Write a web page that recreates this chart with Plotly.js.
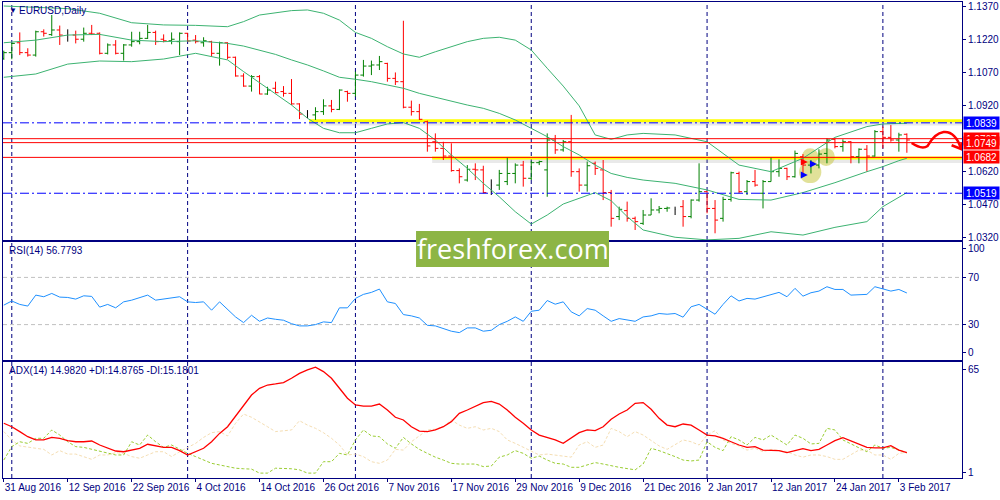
<!DOCTYPE html>
<html>
<head>
<meta charset="utf-8">
<script src="https://cdn.plot.ly/plotly-3.0.1.min.js"></script>
<style>
  html, body { margin: 0; padding: 0; background: #fff; }
  #chart { width: 1000px; height: 500px; }
</style>
</head>
<body>
<div id="chart"></div>
<script>
// EURUSD daily bars, 31 Aug 2016 .. 6 Feb 2017, x = bar number
var openP = [
  1.1132,1.1158,1.1203,1.1158,1.1147,1.1253,1.1240,1.1261,1.1238,1.1238,
  1.1219,1.1246,1.1246,1.1155,1.1193,1.1155,1.1193,1.1208,1.1223,1.1250,
  1.1219,1.1212,1.1208,1.1246,1.1215,1.1203,1.1208,1.1155,1.1203,1.1137,
  1.1052,1.1006,1.1049,1.0970,1.0996,1.0981,1.0973,1.0925,1.0879,1.0875,
  1.0890,1.0916,1.0900,1.0981,1.0973,1.1056,1.1097,1.1102,1.1109,1.1041,
  1.1026,1.0910,1.0890,1.0844,1.0753,1.0723,1.0688,1.0622,1.0579,1.0628,
  1.0625,1.0556,1.0556,1.0572,1.0609,1.0647,1.0587,1.0658,1.0625,1.0761,
  1.0716,1.0753,1.0617,1.0556,1.0655,1.0625,1.0522,1.0413,1.0440,1.0405,
  1.0382,1.0420,1.0443,1.0450,1.0446,1.0458,1.0413,1.0488,1.0526,1.0450,
  1.0405,1.0491,1.0609,1.0526,1.0572,1.0519,1.0572,1.0617,1.0632,1.0594,
  1.0685,1.0647,1.0647,1.0700,1.0764,1.0731,1.0753,1.0685,1.0719,1.0688,
  1.0799,1.0773,1.0761,1.0787
];
var highP = [
  1.1167,1.1203,1.1250,1.1178,1.1258,1.1264,1.1329,1.1281,1.1264,1.1258,
  1.1272,1.1284,1.1250,1.1200,1.1215,1.1197,1.1253,1.1253,1.1284,1.1258,
  1.1241,1.1250,1.1250,1.1248,1.1238,1.1228,1.1212,1.1208,1.1205,1.1140,
  1.1064,1.1056,1.1056,1.1003,1.1026,1.1006,1.1038,1.0928,1.0897,1.0910,
  1.0946,1.0943,1.0991,1.0985,1.1072,1.1125,1.1122,1.1143,1.1112,1.1068,
  1.1303,1.0940,1.0925,1.0849,1.0791,1.0753,1.0746,1.0632,1.0647,1.0655,
  1.0644,1.0582,1.0625,1.0682,1.0655,1.0666,1.0666,1.0667,1.0791,1.0784,
  1.0761,1.0875,1.0632,1.0663,1.0663,1.0670,1.0534,1.0458,1.0481,1.0413,
  1.0443,1.0496,1.0461,1.0458,1.0458,1.0488,1.0491,1.0655,1.0530,1.0488,
  1.0503,1.0617,1.0617,1.0579,1.0625,1.0579,1.0682,1.0673,1.0635,1.0713,
  1.0697,1.0670,1.0719,1.0769,1.0769,1.0764,1.0756,1.0723,1.0738,1.0806,
  1.0822,1.0829,1.0794,1.0791
];
var lowP = [
  1.1125,1.1128,1.1147,1.1140,1.1140,1.1231,1.1234,1.1193,1.1208,1.1200,
  1.1208,1.1238,1.1150,1.1150,1.1150,1.1122,1.1185,1.1196,1.1220,1.1193,
  1.1205,1.1196,1.1147,1.1208,1.1200,1.1185,1.1140,1.1099,1.1128,1.1049,
  1.1003,1.0981,1.0969,1.0966,1.0973,1.0958,1.0920,1.0856,1.0860,1.0852,
  1.0875,1.0887,1.0897,1.0935,1.0958,1.1049,1.1056,1.1079,1.1026,1.1011,
  1.0905,1.0872,1.0852,1.0708,1.0708,1.0670,1.0617,1.0564,1.0572,1.0579,
  1.0519,1.0511,1.0534,1.0556,1.0564,1.0549,1.0579,1.0647,1.0503,1.0698,
  1.0708,1.0594,1.0526,1.0526,1.0602,1.0488,1.0367,1.0397,1.0390,1.0352,
  1.0375,1.0420,1.0428,1.0435,1.0420,1.0367,1.0405,1.0481,1.0428,1.0337,
  1.0390,1.0481,1.0519,1.0511,1.0549,1.0450,1.0572,1.0594,1.0579,1.0590,
  1.0602,1.0609,1.0632,1.0655,1.0723,1.0708,1.0655,1.0655,1.0617,1.0685,
  1.0723,1.0753,1.0708,1.0703
];
var closeP = [
  1.1158,1.1200,1.1158,1.1147,1.1253,1.1246,1.1261,1.1238,1.1238,1.1219,
  1.1246,1.1243,1.1155,1.1193,1.1155,1.1193,1.1208,1.1223,1.1250,1.1208,
  1.1212,1.1219,1.1246,1.1211,1.1208,1.1212,1.1155,1.1203,1.1137,1.1052,
  1.1006,1.1049,1.0970,1.0988,1.0976,1.0973,1.0925,1.0879,1.0879,1.0890,
  1.0916,1.0900,1.0988,1.0973,1.1056,1.1097,1.1102,1.1117,1.1041,1.1026,
  1.0910,1.0890,1.0855,1.0734,1.0723,1.0688,1.0622,1.0594,1.0628,1.0625,
  1.0522,1.0556,1.0609,1.0609,1.0647,1.0587,1.0658,1.0663,1.0761,1.0716,
  1.0753,1.0617,1.0556,1.0644,1.0632,1.0522,1.0405,1.0446,1.0405,1.0390,
  1.0420,1.0443,1.0450,1.0452,1.0446,1.0413,1.0488,1.0526,1.0450,1.0397,
  1.0491,1.0612,1.0526,1.0572,1.0556,1.0572,1.0617,1.0632,1.0594,1.0700,
  1.0647,1.0655,1.0697,1.0761,1.0731,1.0753,1.0685,1.0719,1.0688,1.0799,
  1.0773,1.0761,1.0784,1.0761
];

var tickLabels = ['31 Aug 2016', '12 Sep 2016', '22 Sep 2016', '4 Oct 2016', '14 Oct 2016',
  '26 Oct 2016', '7 Nov 2016', '17 Nov 2016', '29 Nov 2016', '9 Dec 2016', '21 Dec 2016',
  '2 Jan 2017', '12 Jan 2017', '24 Jan 2017', '3 Feb 2017'];
var monthStarts = [1, 23, 44, 66, 88, 110];
var priceTicks = [1.1370, 1.1220, 1.1070, 1.0920, 1.0620, 1.0470, 1.0320];

// Bollinger bands (20), read at these bars
var bbX = [0,4,8,12,16,20,24,28,30,32,34,36,38,40,42,44,46,48,50,52,54,56,58,60,62,64,66,68,70,72,74,76,78,80,84,88,92,96,100,104,108,110,112,113];
var bbUpper = [1.1370,1.1364,1.1358,1.1337,1.1294,1.1284,1.1282,1.1276,1.1299,1.1329,1.1340,1.1349,1.1352,1.1337,1.1306,1.1250,1.1223,1.1185,1.1152,1.1137,1.1162,1.1185,1.1208,1.1223,1.1228,1.1215,1.1170,1.1087,1.1006,1.0916,1.0784,1.0764,1.0784,1.0791,1.0784,1.0753,1.0647,1.0617,1.0678,1.0773,1.0822,1.0834,1.0837,1.0837];
var bbMiddle = [1.1203,1.1215,1.1238,1.1241,1.1215,1.1208,1.1212,1.1200,1.1188,1.1170,1.1150,1.1125,1.1102,1.1075,1.1046,1.1037,1.1026,1.1011,1.0996,1.0973,1.0955,1.0935,1.0920,1.0905,1.0882,1.0852,1.0814,1.0776,1.0731,1.0693,1.0647,1.0609,1.0591,1.0579,1.0564,1.0534,1.0491,1.0488,1.0522,1.0567,1.0617,1.0640,1.0667,1.0678];
var bbLower = [1.1046,1.1061,1.1106,1.1120,1.1117,1.1129,1.1155,1.1125,1.1072,1.1022,1.0973,1.0920,1.0860,1.0814,1.0794,1.0794,1.0814,1.0834,1.0840,1.0814,1.0761,1.0693,1.0632,1.0564,1.0503,1.0435,1.0379,1.0420,1.0470,1.0496,1.0522,1.0485,1.0413,1.0352,1.0319,1.0307,1.0314,1.0344,1.0329,1.0364,1.0390,1.0458,1.0503,1.0522];

var rsi = [
  46.5,50.0,47.1,45.7,55.0,53.6,56.4,53.3,53.0,51.6,
  54.4,53.9,44.8,47.1,44.2,49.3,50.7,52.7,55.0,50.7,
  51.6,52.7,53.6,49.3,48.7,49.3,42.2,49.3,43.0,36.5,
  31.7,37.9,32.8,35.6,34.5,33.7,30.8,28.9,28.9,30.0,
  32.3,31.7,44.2,44.2,52.2,55.6,57.3,60.1,49.3,47.9,
  38.5,37.4,35.6,29.4,28.9,26.6,24.4,23.2,27.2,27.2,
  24.4,25.2,30.0,32.8,36.5,32.8,41.3,42.2,50.4,47.3,
  49.3,40.8,37.4,43.6,42.2,37.4,32.8,35.1,33.7,32.8,
  36.5,37.4,39.4,38.8,39.4,36.3,45.1,47.1,43.0,38.8,
  47.1,54.4,50.0,52.2,51.6,53.3,55.0,57.3,53.6,60.7,
  54.1,57.0,58.4,62.1,59.8,59.8,55.0,55.6,55.6,62.1,
  60.1,58.4,59.8,56.8
];
var adx = [
  31.2,29.3,26.6,23.8,22.0,22.0,23.4,22.9,21.6,21.0,
  21.0,21.4,19.2,17.4,15.9,15.5,16.4,17.4,19.6,18.8,
  17.9,17.9,16.1,13.7,15.5,17.4,21.0,25.6,29.3,35.2,
  41.3,46.8,50.5,52.3,52.9,53.6,56.0,58.7,60.6,62.1,
  59.7,56.0,50.5,45.0,41.3,40.7,40.7,41.8,38.5,34.5,
  33.0,29.3,26.9,26.6,27.5,29.3,32.1,36.7,38.5,40.4,
  42.6,43.3,41.8,38.5,34.5,31.2,27.5,24.7,23.4,22.0,
  20.1,22.9,26.0,27.5,27.1,29.3,33.4,36.3,38.5,42.2,
  42.6,38.9,33.9,30.2,29.3,30.8,30.2,27.5,24.7,24.2,
  22.9,21.0,19.2,17.9,18.3,16.4,16.4,16.1,15.0,16.1,
  17.2,16.1,16.8,19.2,21.6,23.3,21.6,19.8,17.9,17.6,
  17.6,18.8,16.4,15.0
];
var plusDI = [
  10.9,18.3,21.0,20.1,22.9,22.9,27.5,24.7,21.0,18.3,
  17.9,16.8,15.5,14.6,13.7,13.7,21.0,19.2,24.7,21.0,
  17.9,19.2,16.8,14.6,12.8,10.9,9.1,8.2,7.3,6.4,
  6.1,5.9,3.7,3.7,6.4,6.4,6.1,5.5,3.7,3.7,
  10.0,10.0,14.6,13.7,22.0,27.5,24.2,23.8,19.8,17.4,
  23.4,19.8,16.8,14.6,12.5,10.9,9.1,8.7,8.7,8.7,
  7.3,7.6,12.5,13.7,16.1,14.6,11.9,13.1,10.9,9.1,
  8.7,6.9,6.9,8.2,9.5,8.7,7.6,6.9,6.2,5.5,
  8.7,17.4,16.1,14.6,12.8,10.9,10.4,10.9,21.0,17.9,
  16.1,23.8,22.0,19.2,23.4,22.0,24.7,22.0,19.2,24.7,
  22.9,19.8,20.1,28.4,27.5,22.0,19.8,17.9,15.5,19.2,
  17.4,17.9,16.4,14.9
];
var minusDI = [
  26.6,22.0,18.7,17.9,17.4,16.8,13.7,16.1,14.2,14.2,
  12.8,11.3,13.7,13.7,15.0,14.6,12.8,11.9,13.7,15.5,
  15.5,12.8,15.5,17.9,20.1,23.4,26.0,26.6,24.2,31.2,
  36.3,34.5,32.1,29.3,26.6,27.1,27.5,32.6,30.2,28.4,
  26.0,22.9,19.2,13.7,14.2,12.8,10.0,9.1,10.9,16.8,
  16.4,21.0,24.2,27.5,27.9,29.3,33.0,30.2,28.4,29.3,
  27.5,28.4,26.6,22.0,20.1,17.9,15.5,13.7,14.2,13.7,
  12.8,12.5,19.2,21.0,17.9,19.2,28.4,26.6,23.8,26.6,
  24.7,21.6,18.7,16.8,19.2,22.0,21.0,19.2,24.7,27.1,
  22.0,20.1,18.7,16.4,17.4,15.5,16.8,16.1,15.5,13.7,
  12.5,13.7,13.7,12.8,11.3,11.3,13.7,16.4,16.4,13.7,
  13.7,11.3,14.6,15.2
];

// drawn objects on the chart
var redLevels = [1.0767, 1.0749, 1.0682];
var blueLevels = [1.0839, 1.0519];
var yellowLevels = [{ y: 1.0849, from: 38.2 }, { y: 1.0679, from: 53.6 }];
var priceLabels = [
  { y: 1.0839, text: '1.0839', color: '#0000ff' },
  { y: 1.0519, text: '1.0519', color: '#0000ff' },
  { y: 1.0767, text: '1.0767', color: '#ff0000' },
  { y: 1.0749, text: '1.0749', color: '#ff0000' },
  { y: 1.0682, text: '1.0682', color: '#ff0000' }
];

var NAVY = '#000080';
var FONT = 'Liberation Sans, Arial, sans-serif';
var xs = closeP.map(function (c, i) { return i; });
var xRange = [-0.1, 119.9];

function ohlcTrace(idx, color) {
  var gap = 1e9;
  for (var k = 1; k < idx.length; k++) gap = Math.min(gap, idx[k] - idx[k - 1]);
  if (idx.length < 2) gap = 1;
  return {
    type: 'ohlc', x: idx,
    open: idx.map(function (i) { return openP[i]; }),
    high: idx.map(function (i) { return highP[i]; }),
    low: idx.map(function (i) { return lowP[i]; }),
    close: idx.map(function (i) { return closeP[i]; }),
    increasing: { line: { color: color, width: 1 } },
    decreasing: { line: { color: color, width: 1 } },
    tickwidth: Math.min(0.5, 0.38 / gap),
    hoverinfo: 'skip', showlegend: false, xaxis: 'x', yaxis: 'y'
  };
}

var upBars = [], downBars = [], flatBars = [];
xs.forEach(function (i) {
  if (closeP[i] > openP[i]) upBars.push(i);
  else if (closeP[i] < openP[i]) downBars.push(i);
  else flatBars.push(i);
});

function line(x, y, color, ax, extra) {
  var t = { type: 'scatter', mode: 'lines', x: x, y: y, line: { color: color, width: 1 },
    hoverinfo: 'skip', showlegend: false, xaxis: ax[0], yaxis: ax[1] };
  for (var k in extra) t[k] = extra[k];
  return t;
}

var data = [
  line(bbX, bbUpper, '#3cb371', ['x', 'y']),
  line(bbX, bbMiddle, '#3cb371', ['x', 'y']),
  line(bbX, bbLower, '#3cb371', ['x', 'y']),
  ohlcTrace(upBars, '#008000'),
  ohlcTrace(downBars, '#ff0000'),
  ohlcTrace(flatBars, '#000000'),
  // small arrows inside the highlight
  { type: 'scatter', mode: 'markers', x: [100.6, 101.75, 100.6], y: [1.0661, 1.0652, 1.0602],
    marker: { symbol: 'arrow-right', size: 7, color: ['#ff0000', '#0000ff', '#0000ff'] },
    hoverinfo: 'skip', showlegend: false, xaxis: 'x', yaxis: 'y' },
  line(xs, rsi, '#1e90ff', ['x2', 'y2']),
  line(xs, minusDI, '#f5deb3', ['x3', 'y3'], { line: { color: '#f5deb3', width: 1, dash: '3px,2px' } }),
  line(xs, plusDI, '#9acd32', ['x3', 'y3'], { line: { color: '#9acd32', width: 1, dash: '3px,2px' } }),
  line(xs, adx, '#ff0000', ['x3', 'y3'], { line: { color: '#ff0000', width: 1.3 } })
];

var shapes = [];
monthStarts.forEach(function (m) {
  shapes.push({ type: 'line', xref: 'x', yref: 'paper', x0: m, x1: m, y0: 0, y1: 1, layer: 'below',
    line: { color: NAVY, width: 1, dash: '4px,3px' } });
});
[70, 30].forEach(function (v) {
  shapes.push({ type: 'line', xref: 'paper', yref: 'y2', x0: 0, x1: 1, y0: v, y1: v, layer: 'below',
    line: { color: '#c0c0c0', width: 1, dash: '4px,3px' } });
});
blueLevels.forEach(function (v) {
  shapes.push({ type: 'line', xref: 'paper', yref: 'y', x0: 0, x1: 1, y0: v, y1: v,
    line: { color: '#0000ff', width: 1, dash: '9px,3px,2px,3px' } });
});
yellowLevels.forEach(function (l) {
  shapes.push({ type: 'line', xref: 'x', yref: 'y', x0: l.from, x1: xRange[1], y0: l.y - 0.0011, y1: l.y - 0.0011,
    layer: 'below', line: { color: 'rgba(120,120,120,0.16)', width: 5 } });
  shapes.push({ type: 'line', xref: 'x', yref: 'y', x0: l.from, x1: xRange[1], y0: l.y, y1: l.y,
    layer: 'below', line: { color: '#ffff00', width: 3 } });
});
redLevels.forEach(function (v) {
  shapes.push({ type: 'line', xref: 'paper', yref: 'y', x0: 0, x1: 1, y0: v, y1: v,
    line: { color: '#ff0000', width: 1 } });
});
// yellow highlight around the breakout bars
[[100.9, 1.0615, 1.4, 0.0050], [102.9, 1.0684, 1.1, 0.0041], [100.9, 1.0688, 1.0, 0.0036]].forEach(function (c) {
  shapes.push({ type: 'circle', xref: 'x', yref: 'y', x0: c[0] - c[2], x1: c[0] + c[2], y0: c[1] - c[3], y1: c[1] + c[3],
    layer: 'below', fillcolor: 'rgba(200,200,70,0.55)', line: { width: 0 } });
});
// hand drawn red arrow
shapes.push({ type: 'path', xref: 'x', yref: 'y',
  path: 'M113.6,1.0747 C114.3,1.0730 115.0,1.0718 115.6,1.0734 C116.0,1.0760 116.6,1.0792 117.6,1.0797 C118.6,1.0801 119.4,1.0770 119.75,1.0722',
  line: { color: '#ff0000', width: 2.5 } });
shapes.push({ type: 'path', xref: 'x', yref: 'y',
  path: 'M118.6,1.0737 L119.8,1.0720 L119.85,1.0747',
  line: { color: '#ff0000', width: 2.5 } });
// watermark box
shapes.push({ type: 'rect', xref: 'paper', yref: 'paper', x0: 0.4307, x1: 0.6319, y0: 0.4433, y1: 0.5189,
  fillcolor: '#8db545', line: { width: 0 }, layer: 'above' });

var annotations = [
  { xref: 'paper', yref: 'paper', x: 0.004, y: 0.983, xanchor: 'left', yanchor: 'middle', showarrow: false,
    text: '▼', font: { family: FONT, size: 8, color: NAVY } },
  { xref: 'paper', yref: 'paper', x: 0.0146, y: 0.983, xanchor: 'left', yanchor: 'middle', showarrow: false,
    text: 'EURUSD,Daily', font: { family: FONT, size: 10, color: NAVY } },
  { xref: 'paper', yref: 'paper', x: 0.004, y: 0.4769, xanchor: 'left', yanchor: 'middle', showarrow: false,
    text: 'RSI(14) 56.7793', font: { family: FONT, size: 10, color: NAVY } },
  { xref: 'paper', yref: 'paper', x: 0.004, y: 0.2248, xanchor: 'left', yanchor: 'middle', showarrow: false,
    text: 'ADX(14) 14.9820 +DI:14.8765 -DI:15.1801', font: { family: FONT, size: 10, color: NAVY } },
  { xref: 'paper', yref: 'paper', x: 0.5313, y: 0.4811, xanchor: 'center', yanchor: 'middle', showarrow: false,
    text: 'freshforex.com', font: { family: 'Open Sans, sans-serif', size: 27, color: '#ffffff' } }
];
priceLabels.forEach(function (p) {
  annotations.push({ xref: 'paper', yref: 'y', x: 1, y: p.y, xanchor: 'left', yanchor: 'middle', xshift: 1,
    showarrow: false, text: p.text, bgcolor: p.color, width: 35, height: 12, borderpad: 0,
    font: { family: FONT, size: 10, color: '#ffffff' } });
});

var axisBase = { showline: true, mirror: true, linecolor: NAVY, linewidth: 1, showgrid: false, zeroline: false,
  tickfont: { family: FONT, size: 10, color: NAVY }, tickcolor: NAVY, fixedrange: true };
function ax(extra) { var o = {}; for (var k in axisBase) o[k] = axisBase[k]; for (var j in extra) o[j] = extra[j]; return o; }

var layout = {
  width: 1000, height: 500,
  margin: { l: 3, r: 38, t: 2, b: 22 },
  paper_bgcolor: '#ffffff', plot_bgcolor: '#ffffff',
  showlegend: false,
  xaxis: ax({ domain: [0, 1], anchor: 'y', range: xRange, showticklabels: false, ticks: '', rangeslider: { visible: false } }),
  xaxis2: ax({ domain: [0, 1], anchor: 'y2', range: xRange, matches: 'x', showticklabels: false, ticks: '' }),
  xaxis3: ax({ domain: [0, 1], anchor: 'y3', range: xRange, matches: 'x',
    tickmode: 'array', tickvals: tickLabels.map(function (t, i) { return i * 8; }), ticktext: tickLabels,
    ticks: 'outside', ticklen: 3, tickangle: 0, ticklabelposition: 'outside right' }),
  yaxis: ax({ domain: [0.5, 1], anchor: 'x', side: 'right', range: [1.03065, 1.13882],
    tickmode: 'array', tickvals: priceTicks, tickformat: '.4f', ticks: 'outside', ticklen: 3 }),
  yaxis2: ax({ domain: [0.2479, 0.4958], anchor: 'x2', side: 'right', range: [0, 100],
    tickmode: 'array', tickvals: [94.5, 70, 30, 6], ticktext: ['100', '70', '30', '0'], ticks: 'outside', ticklen: 3 }),
  yaxis3: ax({ domain: [0, 0.2437], anchor: 'x3', side: 'right', range: [1, 65],
    tickmode: 'array', tickvals: [61.1, 3.8], ticktext: ['65', '1'], ticks: 'outside', ticklen: 3 }),
  shapes: shapes,
  annotations: annotations
};

Plotly.newPlot('chart', data, layout, { staticPlot: true, displayModeBar: false });
</script>
</body>
</html>
